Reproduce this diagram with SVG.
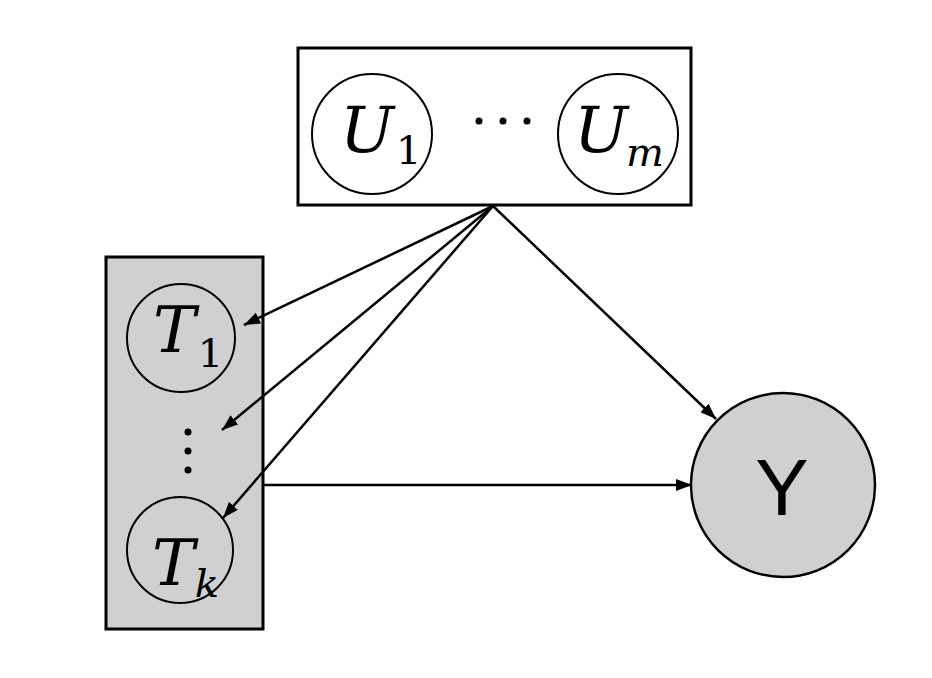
<svg xmlns="http://www.w3.org/2000/svg" width="932" height="678" viewBox="0 0 932 678">
<defs>
<marker id="ah" viewBox="0 0 16 12" refX="16" refY="6" markerWidth="16" markerHeight="12" markerUnits="userSpaceOnUse" orient="auto">
<path d="M0,0 L16,6 L0,12 Z" fill="#000"/>
</marker>
</defs>
<style>
.box{stroke:#000;stroke-width:3}
.node{stroke:#000;stroke-width:2;fill:none}
.edge{stroke:#000;stroke-width:2.5;fill:none;marker-end:url(#ah)}
.var{font-family:"DejaVu Serif","Liberation Serif",serif;font-style:italic;font-size:64px;fill:#000}
.sub{font-style:normal;font-size:40px}
.subi{font-style:italic;font-size:40px}
</style>
<rect width="932" height="678" fill="#fff"/>
<g id="U-plate">
<rect class="box" x="298" y="48" width="393" height="157" fill="#fff"/>
<circle cx="479" cy="121" r="3.5" fill="#000"/>
<circle cx="503" cy="121" r="3.5" fill="#000"/>
<circle cx="527" cy="121" r="3.5" fill="#000"/>
</g>
<g id="U1">
<circle class="node" cx="372" cy="134" r="60"/>
<text class="var" x="340" y="152">U<tspan class="sub" dx="2" dy="12">1</tspan></text>
</g>
<g id="Um">
<circle class="node" cx="618" cy="134" r="60"/>
<text class="var" x="574" y="152">U<tspan class="subi" dx="-2" dy="14">m</tspan></text>
</g>
<g id="T-plate">
<rect class="box" x="106" y="257" width="157" height="372" fill="#d0cfd1"/>
<circle cx="188" cy="432" r="3.5" fill="#000"/>
<circle cx="188" cy="451" r="3.5" fill="#000"/>
<circle cx="188" cy="470" r="3.5" fill="#000"/>
</g>
<g id="T1">
<circle class="node" cx="181" cy="338" r="54"/>
<text class="var" x="153" y="352">T<tspan class="sub" dx="2" dy="15">1</tspan></text>
</g>
<g id="Tk">
<circle class="node" cx="180" cy="550" r="53"/>
<text class="var" x="152" y="585">T<tspan class="subi" dx="0" dy="12">k</tspan></text>
</g>
<g id="Y">
<circle cx="783" cy="485" r="92" fill="#d0cfd1" stroke="#000" stroke-width="2.5"/>
<text x="782" y="515" text-anchor="middle" font-family="Liberation Sans, Arial, sans-serif" font-size="80" fill="#000">Y</text>
</g>
<g id="connectors">
<line class="edge" x1="493" y1="206" x2="244" y2="325"/>
<line class="edge" x1="493" y1="206" x2="222" y2="430"/>
<line class="edge" x1="493" y1="206" x2="223" y2="518"/>
<line class="edge" x1="493" y1="206" x2="716" y2="419"/>
<line class="edge" x1="263" y1="485" x2="692" y2="485"/>
</g>
</svg>
